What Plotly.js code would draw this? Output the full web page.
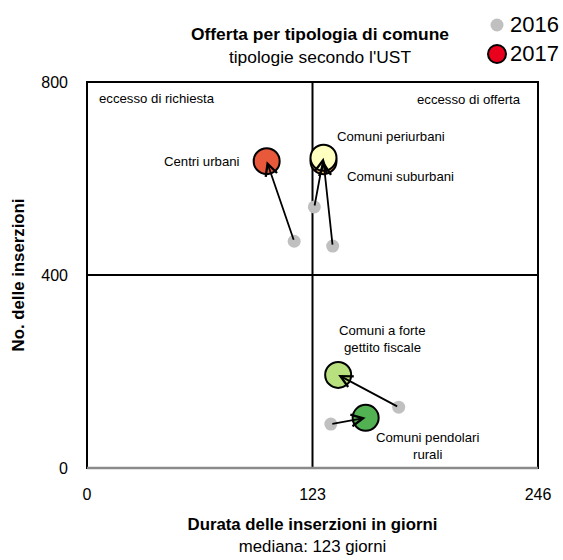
<!DOCTYPE html>
<html>
<head>
<meta charset="utf-8">
<script src="https://cdn.plot.ly/plotly-3.0.1.min.js"></script>
<style>html,body{margin:0;padding:0;background:#fff;}#chart{width:563px;height:560px;}</style>
</head>
<body>
<div id="chart"></div>
<script>
// ---- data ----
var categories = ["Centri urbani", "Comuni suburbani", "Comuni periurbani", "Comuni a forte gettito fiscale", "Comuni pendolari rurali"];
var durata2016 = [113, 134, 124, 170, 133];
var inserzioni2016 = [470, 460, 541, 126, 91];
var durata2017 = [98, 129, 129, 137, 152];
var inserzioni2017 = [636, 636, 643, 193, 104];
var colors2017 = ["#e8583a", "#f2b462", "#ffffc0", "#b8e07e", "#52b152"];
var xTicks = [0, 123, 246];
var yTicks = [0, 400, 800];
var medianDays = 123;
var midInserzioni = 400;

// ---- layout helpers (pixel -> paper) ----
var L = 87, R = 538, T = 82, B = 468;
function px(x) { return (x - L) / (R - L); }
function py(y) { return (B - y) / (B - T); }

var FONT = "'Liberation Sans', Arial, sans-serif";

var traces = [
  {
    type: "scatter", mode: "markers", name: "2016",
    x: durata2016, y: inserzioni2016, text: categories,
    marker: { size: 13, color: "#c0c0c0", line: { width: 0 } },
    showlegend: false, hoverinfo: "text+x+y"
  },
  {
    type: "scatter", mode: "markers", name: "2017",
    x: durata2017, y: inserzioni2017, text: categories,
    marker: { size: 26, color: colors2017, line: { width: 2, color: "#000" } },
    showlegend: false, hoverinfo: "text+x+y"
  }
];

var annotations = [];
// arrows 2016 -> 2017
for (var i = 0; i < categories.length; i++) {
  annotations.push({
    x: durata2017[i], y: inserzioni2017[i], xref: "x", yref: "y",
    ax: durata2016[i], ay: inserzioni2016[i], axref: "x", ayref: "y",
    text: "", showarrow: true, arrowhead: 5, arrowsize: 1.3, arrowwidth: 1.8,
    arrowcolor: "#000", standoff: 0, startstandoff: 0
  });
}
function lab(text, x, y, xanchor, size) {
  annotations.push({
    text: text, xref: "paper", yref: "paper", x: px(x), y: py(y),
    xanchor: xanchor, yanchor: "middle", showarrow: false,
    font: { family: FONT, size: size || 13.2, color: "#000" }
  });
}
lab("eccesso di richiesta", 97, 98, "left");
lab("eccesso di offerta", 523, 99, "right");
lab("Centri urbani", 242, 161, "right");
lab("Comuni periurbani", 335, 137, "left");
lab("Comuni suburbani", 345, 176, "left");
lab("Comuni a forte", 382, 330, "center");
lab("gettito fiscale", 382, 347, "center");
lab("Comuni pendolari", 427, 437, "center");
lab("rurali", 427, 454, "center");
// legend text
lab("2016", 508, 25, "left", 22);
lab("2017", 508, 54, "left", 22);

var shapes = [
  // quadrant lines
  { type: "line", xref: "x", yref: "paper", x0: medianDays, x1: medianDays, y0: 0, y1: 1, line: { color: "#000", width: 2 }, layer: "below" },
  { type: "line", xref: "paper", yref: "y", x0: 0, x1: 1, y0: midInserzioni, y1: midInserzioni, line: { color: "#000", width: 2 }, layer: "below" },
  // frame
  { type: "rect", xref: "paper", yref: "paper", x0: 0, x1: 1, y0: 0, y1: 1, line: { color: "#000", width: 2 }, layer: "below" },
  // bottom axis line (gray)
  { type: "line", xref: "paper", yref: "paper", x0: 0, x1: 1, y0: 0, y1: 0, line: { color: "#8a8a8a", width: 2.5 }, layer: "above" },
  // legend symbols
  { type: "circle", xref: "paper", yref: "paper", x0: px(497 - 6.5), x1: px(497 + 6.5), y0: py(25 + 6.5), y1: py(25 - 6.5), fillcolor: "#c0c0c0", line: { width: 0 } },
  { type: "circle", xref: "paper", yref: "paper", x0: px(497 - 9), x1: px(497 + 9), y0: py(54 + 9), y1: py(54 - 9), fillcolor: "#e8001c", line: { color: "#000", width: 2 } }
];

var layout = {
  width: 563, height: 560,
  margin: { l: L, r: 563 - R, t: T, b: 560 - B, pad: 0 },
  paper_bgcolor: "#fff", plot_bgcolor: "#fff",
  font: { family: FONT, color: "#000" },
  title: {
    text: "<b>Offerta per tipologia di comune</b><br>tipologie secondo l'UST",
    font: { family: FONT, size: 17.4, color: "#000" },
    xref: "container", yref: "container", x: 320 / 563, xanchor: "center",
    y: 1 - 40 / 560, yanchor: "middle"
  },
  xaxis: {
    range: [0, 246], tickvals: xTicks, ticktext: xTicks.map(String),
    showgrid: false, zeroline: false, showline: false, ticks: "",
    ticklabelstandoff: 15,
    tickfont: { family: FONT, size: 16, color: "#000" },
    title: {
      text: "<b>Durata delle inserzioni in giorni</b><br>mediana: 123 giorni",
      font: { family: FONT, size: 16.8, color: "#000" }, standoff: 16
    },
    fixedrange: true
  },
  yaxis: {
    range: [0, 800], tickvals: yTicks, ticktext: yTicks.map(String),
    showgrid: false, zeroline: false, showline: false, ticks: "",
    ticklabelstandoff: 18,
    tickfont: { family: FONT, size: 16, color: "#000" },
    title: {
      text: "<b>No. delle inserzioni</b>",
      font: { family: FONT, size: 16.8, color: "#000" }, standoff: 12
    },
    fixedrange: true
  },
  annotations: annotations,
  shapes: shapes,
  showlegend: false
};

Plotly.newPlot("chart", traces, layout, { displayModeBar: false, staticPlot: true });
</script>
</body>
</html>
